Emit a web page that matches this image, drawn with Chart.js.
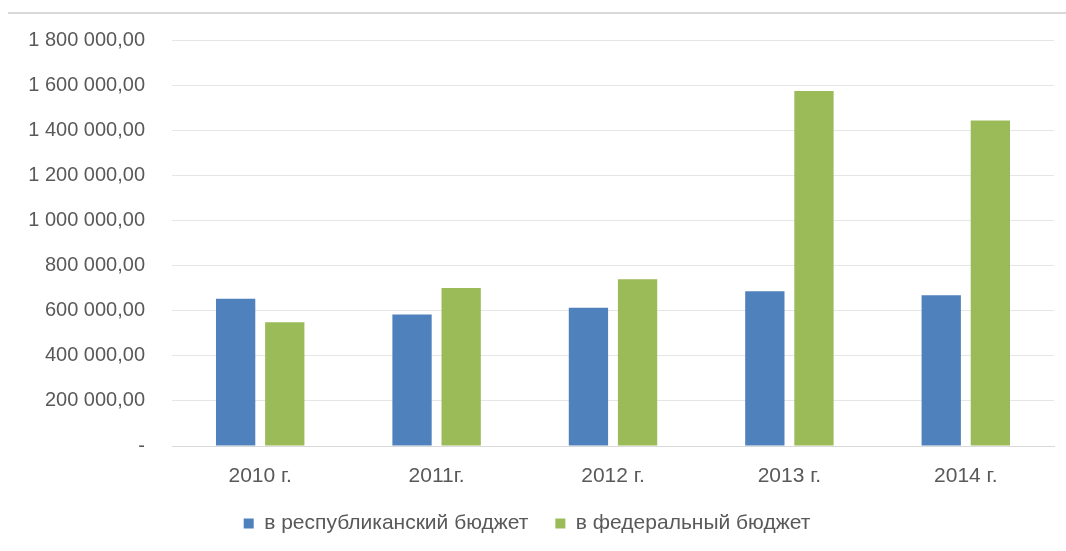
<!DOCTYPE html>
<html>
<head>
<meta charset="utf-8">
<script src="https://cdn.jsdelivr.net/npm/chart.js@4"></script>
<style>
  html, body { margin: 0; padding: 0; background: #fff; }
  #wrap { position: relative; width: 1066px; height: 551px; }
  #topline { position: absolute; left: 8px; right: 0; top: 12px; height: 2px; background: #d9d9d9; }
</style>
</head>
<body>
<div id="wrap">
  <div id="topline"></div>
  <canvas id="chart"></canvas>
</div>
<script>
const years = ['2010 г.', '2011г.', '2012 г.', '2013 г.', '2014 г.'];
const republican = [653000, 583000, 613000, 686000, 668000];
const federal = [549000, 700000, 739000, 1574000, 1443000];
const seriesNames = ['в республиканский бюджет', 'в федеральный бюджет'];

function fmt(v) {
  if (v === 0) return '-';
  const s = String(Math.round(v)).replace(/\B(?=(\d{3})+(?!\d))/g, ' ');
  return s + ',00';
}

const textColor = '#595959';
const fontFamily = "'Liberation Sans', Arial, sans-serif";

new Chart(document.getElementById('chart'), {
  type: 'bar',
  data: {
    labels: years,
    datasets: [
      { label: seriesNames[0], data: republican, backgroundColor: '#4f81bd' },
      { label: seriesNames[1], data: federal, backgroundColor: '#9bbb59' }
    ]
  },
  options: {
    responsive: true,
    maintainAspectRatio: false,
    animation: false,
    categoryPercentage: 0.557,
    barPercentage: 0.8,
    layout: { padding: { top: 40, right: 12, bottom: 7, left: 0 } },
    plugins: {
      tooltip: { enabled: false },
      legend: {
        position: 'bottom',
        labels: {
          color: textColor,
          font: { family: fontFamily, size: 21 },
          boxWidth: 10,
          boxHeight: 10,
          padding: 27
        }
      }
    },
    scales: {
      x: {
        grid: { display: false },
        border: { color: '#d9d9d9' },
        afterFit: s => { s.height = 40; },
        ticks: { color: textColor, font: { family: fontFamily, size: 21 }, padding: 10 }
      },
      y: {
        min: 0,
        max: 1800000,
        afterFit: s => { s.width = 172; },
        border: { display: false },
        grid: { color: '#e6e6e6', drawTicks: false },
        ticks: {
          stepSize: 200000,
          color: textColor,
          font: { family: fontFamily, size: 20 },
          padding: 27,
          callback: v => fmt(v)
        }
      }
    }
  }
});
</script>
</body>
</html>
